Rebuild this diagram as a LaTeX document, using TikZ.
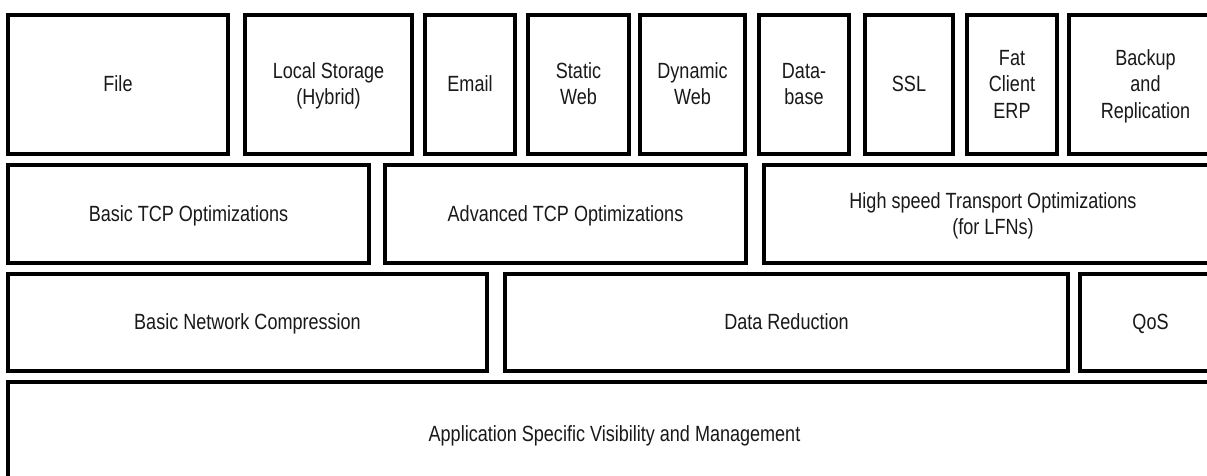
\documentclass[tikz,border=0pt]{standalone}
\usepackage{fontspec}
\setmainfont{Liberation Sans}[FakeStretch=0.82]
\newcommand\myst{\rule[-5pt]{0pt}{25pt}}
\newcommand\myfont{\fontsize{22}{26.5}\selectfont\lineskiplimit=-100pt\relax}
\begin{document}
\begin{tikzpicture}[x=1pt,y=-1pt,
  box/.style={draw=black, line width=4pt, inner sep=0pt, outer sep=0pt,
    align=center, text=black!90, font=\myfont}]
\useasboundingbox (0,0) rectangle (1207,476);
\clip (0,0) rectangle (1207,476);
\fill[white] (0,0) rectangle (1207,476);
% row 1
\node[box, minimum width=220, minimum height=138.5] (file) at (118,84.25) {\myst File};
\node[box, minimum width=167, minimum height=138.5] (local) at (328.5,84.25) {\myst Local Storage\\\myst(Hybrid)};
\node[box, minimum width=90, minimum height=138.5] (email) at (470,84.25) {\myst Email};
\node[box, minimum width=101, minimum height=138.5] (static) at (578.5,84.25) {\myst Static\\\myst Web};
\node[box, minimum width=105, minimum height=138.5] (dynamic) at (692.5,84.25) {\myst Dynamic\\\myst Web};
\node[box, minimum width=90, minimum height=138.5] (db) at (804,84.25) {\myst Data-\\\myst base};
\node[box, minimum width=88, minimum height=138.5] (ssl) at (909,84.25) {\myst SSL};
\node[box, minimum width=90, minimum height=138.5] (fat) at (1012,84.25) {\myst Fat\\\myst Client\\\myst ERP};
\node[box, minimum width=153, minimum height=138.5] (backup) at (1145.5,84.25) {\myst Backup\\\myst and\\\myst Replication};
% row 2
\node[box, minimum width=361, minimum height=98.5] (btcp) at (188.5,213.75) {\myst Basic TCP Optimizations};
\node[box, minimum width=361, minimum height=98.5] (atcp) at (565.5,213.75) {\myst Advanced TCP Optimizations};
\node[box, minimum width=458, minimum height=98.5] (hst) at (993,213.75) {\myst High speed Transport Optimizations\\\myst(for LFNs)};
% row 3
\node[box, minimum width=479, minimum height=97.5] (bnc) at (247.5,322.25) {\myst Basic Network Compression};
\node[box, minimum width=563, minimum height=97.5] (dr) at (786.5,322.25) {\myst Data Reduction};
\node[box, minimum width=141, minimum height=97.5] (qos) at (1150.5,322.25) {\myst QoS};
% row 4
\node[box, minimum width=1213, minimum height=104] (asvm) at (614.5,434) {\myst Application Specific Visibility and Management};
\end{tikzpicture}
\end{document}
